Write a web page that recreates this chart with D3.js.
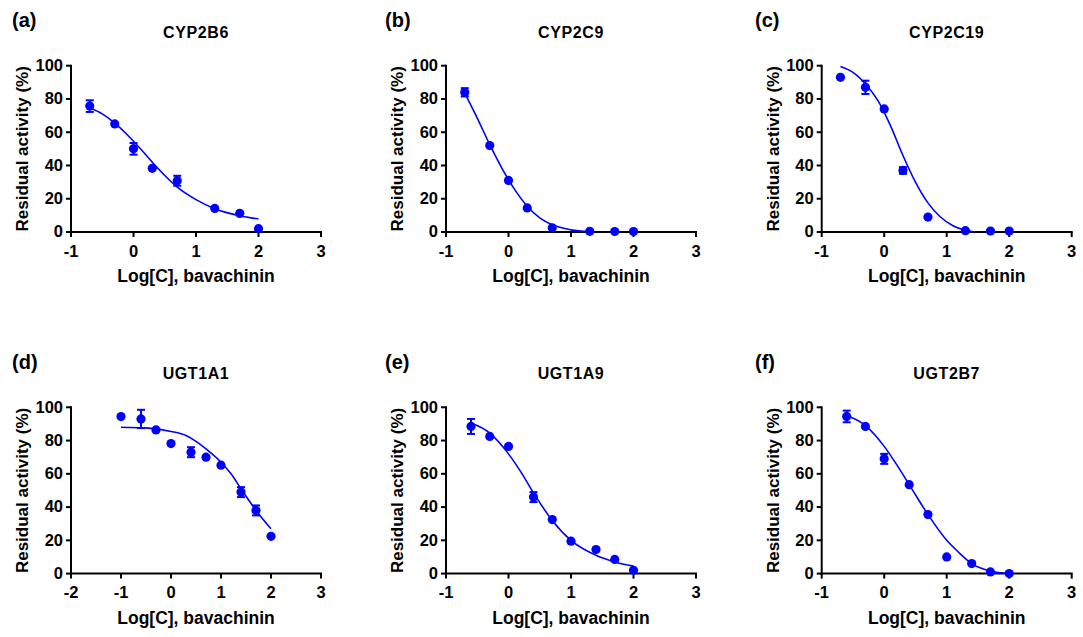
<!DOCTYPE html>
<html lang="en">
<head>
<meta charset="UTF-8">
<title>Bavachinin inhibition curves</title>
<script src="https://d3js.org/d3.v7.min.js"></script>
<style>
  body { margin: 0; background: #fff; }
  svg { display: block; font-family: 'Liberation Sans', Arial, sans-serif; font-weight: bold; }
  .axis path, .axis line { stroke: #000; stroke-width: 2; }
  .axis text { font-size: 16.5px; font-weight: bold; fill: #000; }
</style>
</head>
<body>
<svg width="1083" height="637"></svg>
<script>
// panel labels and titles
const panelLetters = ["(a)", "(b)", "(c)", "(d)", "(e)", "(f)"];
const enzymes = ["CYP2B6", "CYP2C9", "CYP2C19", "UGT1A1", "UGT1A9", "UGT2B7"];
const yTicks = [0, 20, 40, 60, 80, 100];
const xTicksTop = [-1, 0, 1, 2, 3];
const xTicksD = [-2, -1, 0, 1, 2, 3];

// measured points (log conc, residual %, error)
const cyp2b6X = [-0.7, -0.3, 0, 0.3, 0.7, 1.3, 1.7, 2.0];
const cyp2b6Y = [75.7, 65, 50, 38.3, 30.8, 14.2, 11.2, 2];
const cyp2b6Err = [3.5, 0, 3.5, 0, 3, 0, 0, 0];
const cyp2c9X = [-0.7, -0.3, 0, 0.3, 0.7, 1.3, 1.7, 2.0];
const cyp2c9Y = [84, 52, 31, 14.5, 2.5, 0.4, 0.3, 0.3];
const cyp2c9Err = [2.5, 0, 0, 0, 0, 0, 0, 0];
const cyp2c19X = [-0.7, -0.3, 0, 0.3, 0.7, 1.3, 1.7, 2.0];
const cyp2c19Y = [93, 87, 74, 37, 9, 0.8, 0.6, 0.6];
const cyp2c19Err = [0, 4, 0, 2, 0, 0, 0, 0];
const ugt1a1X = [-1, -0.6, -0.3, 0, 0.4, 0.7, 1.0, 1.4, 1.7, 2.0];
const ugt1a1Y = [94.4, 93, 86.4, 78.2, 73, 70, 65.2, 49, 38, 22.4];
const ugt1a1Err = [0, 5.5, 0, 0, 3, 0, 0, 3, 3, 0];
const ugt1a9X = [-0.6, -0.3, 0, 0.4, 0.7, 1.0, 1.4, 1.7, 2.0];
const ugt1a9Y = [88.5, 82.5, 76.5, 46, 32.5, 19.5, 14.5, 8.5, 2];
const ugt1a9Err = [4.5, 0, 0, 3, 0, 0, 0, 0, 0];
const ugt2b7X = [-0.6, -0.3, 0, 0.4, 0.7, 1.0, 1.4, 1.7, 2.0];
const ugt2b7Y = [94.5, 88.5, 69, 53.5, 35.5, 10, 6, 1, 0];
const ugt2b7Err = [3.5, 0, 3, 0, 0, 0, 0, 0, 0];

// fitted curves
const cyp2b6FitX = [-0.7, -0.5, -0.3, -0.1, 0.1, 0.3, 0.5, 0.7, 1.0, 1.3, 1.7, 2.0];
const cyp2b6FitY = [74.5, 71, 65.5, 58.5, 50.5, 42, 34, 27, 19.5, 14, 9.8, 7.8];
const cyp2c9FitX = [-0.7, -0.5, -0.3, -0.1, 0.1, 0.3, 0.5, 0.7, 1.0, 1.3];
const cyp2c9FitY = [83.5, 68.5, 52.5, 38, 25.5, 15.5, 8.5, 4.3, 1.3, 0.2];
const cyp2c19FitX = [-0.7, -0.5, -0.3, -0.1, 0.1, 0.3, 0.5, 0.7, 0.9, 1.1, 1.3, 1.45];
const cyp2c19FitY = [99.5, 96, 89, 79, 64, 46, 30, 17.5, 9, 3.8, 1, 0];
const ugt1a1FitX = [-1, -0.5, 0, 0.3, 0.5, 0.7, 1.0, 1.2, 1.4, 1.7, 2.0];
const ugt1a1FitY = [88, 87.6, 85.5, 83, 79.5, 75, 67, 60, 51, 38, 27];
const ugt1a9FitX = [-0.6, -0.3, 0, 0.2, 0.4, 0.7, 1.0, 1.4, 1.7, 2.0];
const ugt1a9FitY = [90.5, 84.5, 72, 61, 48.5, 32, 20, 11, 7, 4.5];
const ugt2b7FitX = [-0.6, -0.3, 0, 0.2, 0.4, 0.7, 1.0, 1.2, 1.4, 1.7, 2.0];
const ugt2b7FitY = [95, 89, 76.5, 65.5, 53.5, 35.5, 20, 12.5, 6, 1.5, 0];

const panels = [
  { x: cyp2b6X, y: cyp2b6Y, err: cyp2b6Err, fx: cyp2b6FitX, fy: cyp2b6FitY, xDomain: [-1, 3], ticks: xTicksTop },
  { x: cyp2c9X, y: cyp2c9Y, err: cyp2c9Err, fx: cyp2c9FitX, fy: cyp2c9FitY, xDomain: [-1, 3], ticks: xTicksTop },
  { x: cyp2c19X, y: cyp2c19Y, err: cyp2c19Err, fx: cyp2c19FitX, fy: cyp2c19FitY, xDomain: [-1, 3], ticks: xTicksTop },
  { x: ugt1a1X, y: ugt1a1Y, err: ugt1a1Err, fx: ugt1a1FitX, fy: ugt1a1FitY, xDomain: [-2, 3], ticks: xTicksD },
  { x: ugt1a9X, y: ugt1a9Y, err: ugt1a9Err, fx: ugt1a9FitX, fy: ugt1a9FitY, xDomain: [-1, 3], ticks: xTicksTop },
  { x: ugt2b7X, y: ugt2b7Y, err: ugt2b7Err, fx: ugt2b7FitX, fy: ugt2b7FitY, xDomain: [-1, 3], ticks: xTicksTop }
];

const svg = d3.select("svg");
const colLeft = [71, 446, 821.7];
const rowTop = [65.7, 407.3];
const plotW = 250, plotH = 166.3;
const letterX = [12, 385, 755];
const blue = "#0000ff";

panels.forEach((p, i) => {
  const col = i % 3, row = Math.floor(i / 3);
  const g = svg.append("g").attr("transform", `translate(${colLeft[col]},${rowTop[row]})`);

  const x = d3.scaleLinear().domain(p.xDomain).range([0, plotW]);
  const y = d3.scaleLinear().domain([0, 100]).range([plotH, 0]);

  // plain hyphen for negatives, like the original
  g.append("g").attr("class", "axis")
    .attr("transform", `translate(0,${plotH})`)
    .call(d3.axisBottom(x).tickValues(p.ticks).tickFormat(d => String(d)).tickSize(5).tickSizeOuter(0).tickPadding(8).offset(0));

  g.append("g").attr("class", "axis")
    .call(d3.axisLeft(y).tickValues(yTicks).tickSize(5).tickSizeOuter(0).tickPadding(3).offset(0));

  g.selectAll(".domain").attr("stroke-linecap", "square");

  // fitted curve
  const line = d3.line()
    .x(d => x(d[0]))
    .y(d => y(d[1]))
    .curve(d3.curveMonotoneX);
  g.append("path")
    .datum(d3.zip(p.fx, p.fy))
    .attr("d", line)
    .attr("fill", "none")
    .attr("stroke", blue)
    .attr("stroke-width", 1.6);

  const pts = d3.zip(p.x, p.y, p.err);

  // error bars
  const eb = g.selectAll(".eb").data(pts.filter(d => d[2] > 0)).enter().append("g")
    .attr("stroke", blue).attr("stroke-width", 2);
  eb.append("line")
    .attr("x1", d => x(d[0])).attr("x2", d => x(d[0]))
    .attr("y1", d => y(d[1] + d[2])).attr("y2", d => y(d[1] - d[2]));
  eb.append("line")
    .attr("x1", d => x(d[0]) - 4).attr("x2", d => x(d[0]) + 4)
    .attr("y1", d => y(d[1] + d[2])).attr("y2", d => y(d[1] + d[2]));
  eb.append("line")
    .attr("x1", d => x(d[0]) - 4).attr("x2", d => x(d[0]) + 4)
    .attr("y1", d => y(d[1] - d[2])).attr("y2", d => y(d[1] - d[2]));

  // points
  g.selectAll(".pt").data(pts).enter().append("circle")
    .attr("cx", d => x(d[0]))
    .attr("cy", d => y(d[1]))
    .attr("r", 4.6)
    .attr("fill", blue);

  // title
  g.append("text")
    .attr("x", plotW / 2).attr("y", -28)
    .attr("text-anchor", "middle")
    .style("font-size", "16px").style("letter-spacing", "0.6px")
    .text(enzymes[i]);

  // axis labels
  g.append("text")
    .attr("x", plotW / 2).attr("y", plotH + 50)
    .attr("text-anchor", "middle")
    .style("font-size", "17.5px")
    .text("Log[C], bavachinin");

  g.append("text")
    .attr("transform", `translate(-43,${plotH / 2}) rotate(-90)`)
    .attr("text-anchor", "middle")
    .style("font-size", "17px")
    .text("Residual activity (%)");

  // panel letter
  svg.append("text")
    .attr("x", letterX[col]).attr("y", 27 + row * 341.6)
    .style("font-size", "20px")
    .text(panelLetters[i]);
});
</script>
</body>
</html>
